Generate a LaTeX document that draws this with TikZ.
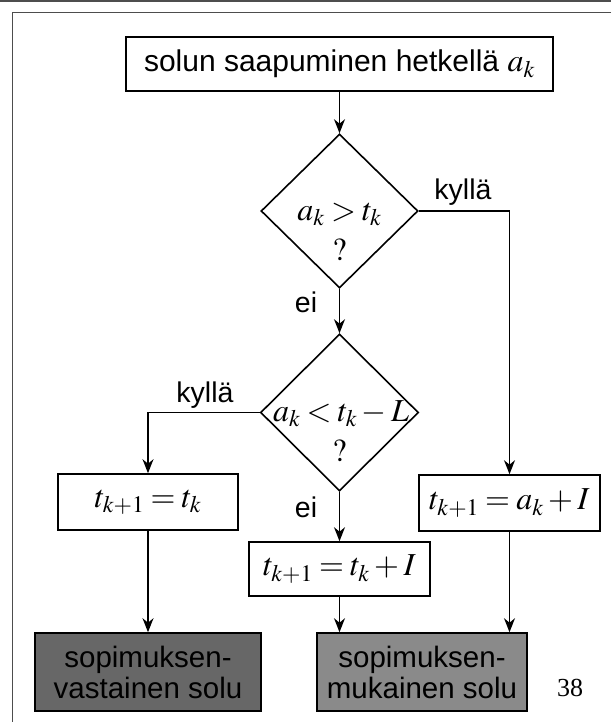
\documentclass[tikz,border=0pt]{standalone}
\usepackage{mathptmx}
\usepackage[no-math]{fontspec}
\setmainfont{Liberation Sans}
\newfontfamily\tms{Liberation Serif}
\usetikzlibrary{shapes.geometric,arrows.meta}
\definecolor{framegray}{HTML}{4D4D4D}
\definecolor{darkfill}{HTML}{676767}
\definecolor{midfill}{HTML}{8A8A8A}
\newcommand{\mymath}[1]{{\fontsize{32}{34}\selectfont$#1$}}
\thickmuskip=3.5mu
\medmuskip=2.5mu
\begin{document}
\begin{tikzpicture}[x=1pt,y=-1pt,
  box/.style={draw,line width=1.6pt,inner sep=0pt,anchor=center,font=\fontsize{30}{33}\selectfont},
  dia/.style={draw,diamond,line width=1.6pt,inner sep=0pt},
  arr/.style={line width=1.6pt,-{Stealth[length=14pt,width=11pt,inset=4.5pt]}},
  lbl/.style={font=\fontsize{28.5}{32}\selectfont,inner sep=0pt,anchor=base},
  mtxt/.style={font=\fontsize{32}{34}\selectfont,inner sep=0pt,anchor=base}]
\useasboundingbox (0,0) rectangle (611,722);
% frame
\draw[framegray,line width=2pt] (0,1) -- (611,1);
\draw[framegray,line width=1.7pt] (611,12.5) -- (12.5,12.5) -- (12.5,722);
% nodes
\node[box,minimum width=427pt,minimum height=54pt] (top) at (339.5,64) {solun saapuminen hetkellä \mymath{a_k}};
\node[dia,minimum width=157pt,minimum height=154pt] (d1) at (339.5,211) {};
\node[mtxt] (d1a) at (339.5,220) {$a_k > t_k$};
\node[mtxt] (d1q) at (339.5,260) {$?$};
\node[dia,minimum width=158pt,minimum height=157pt] (d2) at (339.5,412.5) {};
\node[mtxt] (d2a) at (341,421) {$a_k < t_k - L$};
\node[mtxt] (d2q) at (339.5,461) {$?$};
\node[box,minimum width=180pt,minimum height=56pt,font=\fontsize{32}{34}\selectfont] (lbox) at (148,502) {$t_{k+1} = t_k$};
\node[box,minimum width=181pt,minimum height=56pt,font=\fontsize{32}{34}\selectfont] (rbox) at (509.5,503) {$t_{k+1} = a_k + I$};
\node[box,minimum width=181pt,minimum height=54pt,font=\fontsize{32}{34}\selectfont] (mbox) at (339.5,569) {$t_{k+1} = t_k + I$};
\node[box,fill=darkfill,minimum width=226pt,minimum height=78pt,align=center,font=\fontsize{29.5}{31}\selectfont] (lbot) at (148,672) {sopimuksen-\\vastainen solu};
\node[box,fill=midfill,minimum width=210pt,minimum height=78pt,align=center,font=\fontsize{29.5}{31}\selectfont] (rbot) at (422,672) {sopimuksen-\\mukainen solu};
\node[inner sep=0pt,font=\fontsize{26}{30}\selectfont] (pg) at (570,688) {\tms 38};
% labels
\node[lbl] (y1) at (463,200) {kyllä};
\node[lbl] (n1) at (306,312) {ei};
\node[lbl] (y2) at (205,402) {kyllä};
\node[lbl] (n2) at (306,517) {ei};
% connectors
\draw[arr] (top) -- (d1);
\draw[arr] (d1) -- (d2);
\draw[arr] (d1.east) -| (rbox.north);
\draw[arr] (d2.west) -| (lbox.north);
\draw[arr] (d2) -- (mbox);
\draw[arr] (lbox) -- (lbot);
\draw[arr] (mbox.south) -- (mbox.south |- rbot.north);
\draw[arr] (rbox.south) -- (rbox.south |- rbot.north);
\end{tikzpicture}
\end{document}
